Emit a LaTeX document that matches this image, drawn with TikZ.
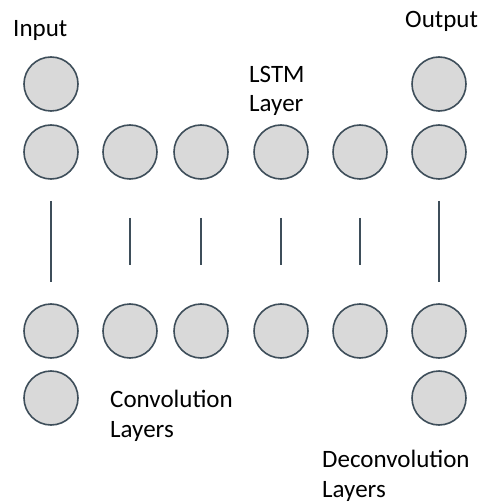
\documentclass[tikz,border=0pt]{standalone}
\usepackage{fontspec}
\setmainfont{Carlito}
\definecolor{nodefill}{RGB}{217,217,217}
\definecolor{nodeline}{RGB}{62,78,90}
\begin{document}
\begin{tikzpicture}[x=1pt,y=-1pt,
  unit/.style={circle,draw=nodeline,fill=nodefill,line width=1.6pt,minimum size=54pt,inner sep=0pt},
  link/.style={draw=nodeline,line width=1.6pt},
  lbl/.style={anchor=base west,inner sep=0pt,font=\fontsize{25}{29}\selectfont,text=black}]
\useasboundingbox (0,0) rectangle (479,502);
% top extra units
\node[unit] (in0) at (51,84) {};
\node[unit] (out0) at (439,84) {};
% upper row
\node[unit] (u1) at (51,152) {};
\node[unit] (u2) at (130,152) {};
\node[unit] (u3) at (201,152) {};
\node[unit] (u4) at (281,152) {};
\node[unit] (u5) at (360,152) {};
\node[unit] (u6) at (439,152) {};
% lower row
\node[unit] (l1) at (51,331) {};
\node[unit] (l2) at (130,331) {};
\node[unit] (l3) at (201,331) {};
\node[unit] (l4) at (281,331) {};
\node[unit] (l5) at (360,331) {};
\node[unit] (l6) at (439,331) {};
% bottom extra units
\node[unit] (in1) at (51,398) {};
\node[unit] (out1) at (439,398) {};
% connectors
\draw[link,shorten <=21pt,shorten >=21pt] (u1) -- (l1);
\draw[link,shorten <=38pt,shorten >=38pt] (u2) -- (l2);
\draw[link,shorten <=38pt,shorten >=38pt] (u3) -- (l3);
\draw[link,shorten <=38pt,shorten >=38pt] (u4) -- (l4);
\draw[link,shorten <=38pt,shorten >=38pt] (u5) -- (l5);
\draw[link,shorten <=21pt,shorten >=21pt] (u6) -- (l6);
% labels
\node[lbl] (tin) at (13,37) {Input};
\node[lbl] (tout) at (405,28) {Output};
\node[lbl] (tlstm) at (249,83) {LSTM};
\node[lbl] (tlay) at (249,112) {Layer};
\node[lbl] (tconv) at (110,407) {Convolution};
\node[lbl] (tconvl) at (110,437) {Layers};
\node[lbl] (tdec) at (322,467) {Deconvolution};
\node[lbl] (tdecl) at (322,497) {Layers};
\end{tikzpicture}
\end{document}
